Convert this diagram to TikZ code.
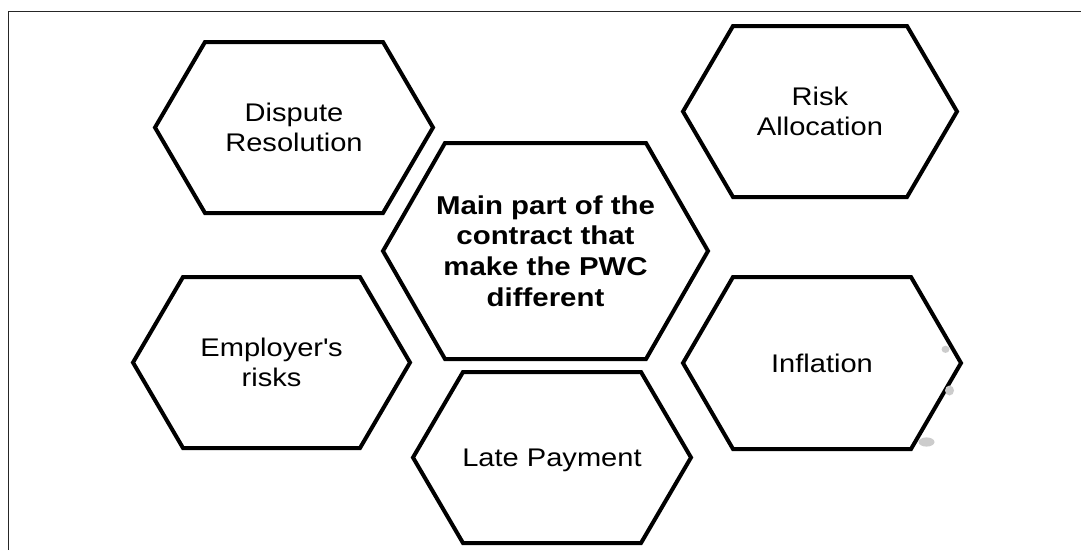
\documentclass[tikz,border=0pt]{standalone}
\usepackage{fontspec}
\setmainfont[FakeStretch=1.14]{Liberation Sans}
\usetikzlibrary{calc}
\tikzset{
  hexbox/.style={inner sep=0pt, align=center, font=\fontsize{25.5}{29.3}\selectfont},
  mainbox/.style={inner sep=0pt, align=center, font=\bfseries\fontsize{25.8}{30.6}\selectfont},
  hexline/.style={line width=4pt, line join=miter, draw=black},
  frameline/.style={line width=1.2pt, draw=black!85},
  blob/.style={fill=black!20, draw=none}
}
% name, half width, half height, slant offset
\newcommand{\hexoutline}[4]{%
  \draw[hexline] (#1.center) ++(-#2,0) -- ++(#4,-#3) -- ++({2*#2-2*#4},0)
    -- ++(#4,#3) -- ++(-#4,#3) -- ++({-(2*#2-2*#4)},0) -- cycle;}
\begin{document}
\begin{tikzpicture}[x=1pt,y=-1pt]
\useasboundingbox (0,0) rectangle (1081,550);
% frame (left and top edges)
\draw[frameline] (8.5,550) -- (8.5,11.5) -- (1081,11.5);

\node[hexbox] (dispute) at (294,127.5) {Dispute\\Resolution};
\hexoutline{dispute}{139}{85.5}{50}

\node[hexbox] (risk) at (820,111.5) {Risk\\Allocation};
\hexoutline{risk}{137}{85.5}{50}

\node[hexbox] (employer) at (271.5,362.5) {Employer\textquotesingle s\\risks};
\hexoutline{employer}{138.5}{85.5}{50}

\node[hexbox] (inflation) at (822,363) {Inflation};
\hexoutline{inflation}{139}{86}{50}

\node[hexbox, text depth=0pt] (late) at (552,457.5) {Late Payment};
\hexoutline{late}{139}{85.5}{50}

\node[mainbox] (main) at (545.5,251) {Main part of the\\contract that\\make the PWC\\different};
\hexoutline{main}{162.5}{108}{62}

% faint grey marks beside the Inflation hexagon
\fill[blob] (945.5,349.3) ellipse (4pt and 3.6pt);
\fill[blob] (949.5,390.5) ellipse (4.5pt and 5pt);
\fill[blob] (926.5,442) ellipse (8pt and 4.6pt);
\end{tikzpicture}
\end{document}
